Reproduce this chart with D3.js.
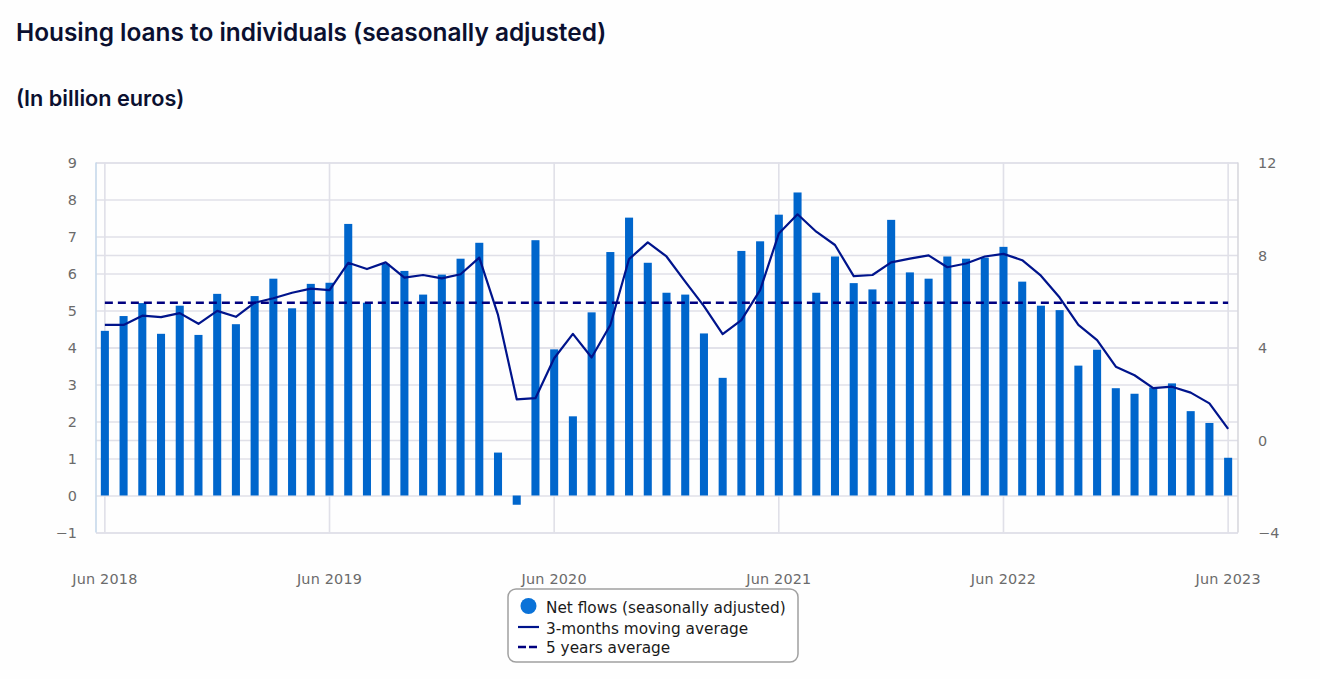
<!doctype html>
<html>
  <head>
    <meta charset="utf-8">
    <title>Housing loans to individuals</title>
    <script src="https://cdn.jsdelivr.net/npm/d3@7"></script>
    <style>
      html, body { margin:0; padding:0; overflow:hidden; background:#fefefe }
      svg { display:block }
      .title { font-family:Inter; font-weight:600; fill:#0b1030 }
      .axis text { font-family:"DejaVu Sans"; font-size:14.4px; fill:#6b6b6b; letter-spacing:0.2px }
      .axis .domain { display:none }
      .grid line { stroke:#e0e0e8; stroke-width:1.6 }
      .grid .domain { display:none }
      .legend text { font-family:"DejaVu Sans"; font-size:15.3px; fill:#1a1a1a }
    </style>
  </head>
  <body>
    <div id="chart"></div>
    <script>
      var WIDTH = 1320, HEIGHT = 679;

      var monthFormat = d3.utcFormat("%b %Y");
      var months = d3.utcMonth.range(new Date(Date.UTC(2018, 5, 1)), new Date(Date.UTC(2023, 6, 1))).map(monthFormat);
      var xTicks = ["Jun 2018", "Jun 2019", "Jun 2020", "Jun 2021", "Jun 2022", "Jun 2023"];
      var leftTicks = [-1, 0, 1, 2, 3, 4, 5, 6, 7, 8, 9];
      var rightTicks = [-4, 0, 4, 8, 12];

      var netFlows = [
        4.45, 4.85, 5.2, 4.37, 5.13, 4.34, 5.45, 4.63, 5.39, 5.86, 5.06, 5.72,
        5.75, 7.34, 5.21, 6.26, 6.07, 5.43, 5.97, 6.4, 6.83, 1.16, -0.25, 6.9,
        3.95, 2.14, 4.95, 6.58, 7.51, 6.29, 5.48, 5.43, 4.38, 3.18, 6.61, 6.87,
        7.59, 8.19, 5.48, 6.46, 5.74, 5.57, 7.45, 6.03, 5.86, 6.46, 6.4, 6.43,
        6.72, 5.78, 5.13, 5.01, 3.51, 3.94, 2.9, 2.75, 2.92, 3.03, 2.28, 1.96,
        1.02
      ];
      var movingAverage = [
        4.61, 4.61, 4.86, 4.82, 4.93, 4.64, 4.99, 4.83, 5.21, 5.33, 5.48, 5.59,
        5.55, 6.29, 6.12, 6.3, 5.89, 5.96, 5.87, 5.98, 6.43, 4.88, 2.6, 2.63,
        3.71, 4.37, 3.73, 4.61, 6.39, 6.84, 6.46, 5.78, 5.12, 4.36, 4.74, 5.55,
        7.08, 7.6, 7.13, 6.77, 5.93, 5.96, 6.3, 6.4, 6.49, 6.17, 6.27, 6.46,
        6.53, 6.36, 5.94, 5.35, 4.61, 4.2, 3.48, 3.25, 2.9, 2.94, 2.78, 2.49,
        1.8
      ];
      var fiveYearAverage = 5.21;

      var svg = d3.select("#chart").append("svg")
        .attr("width", WIDTH).attr("height", HEIGHT);

      var x = d3.scaleBand().domain(months).range([95.5, 1237.5]).paddingInner(0.57).paddingOuter(0.285);
      var y = d3.scaleLinear().domain([-1, 9]).range([532.5, 162.5]);
      var yRight = d3.scaleLinear().domain([-4, 12]).range([532.5, 162.5]);
      var mid = function(m) { return x(m) + x.bandwidth() / 2; };

      svg.append("text").attr("class", "title")
        .attr("x", 16).attr("y", 40.5).attr("font-size", 24.4)
        .text("Housing loans to individuals (seasonally adjusted)");
      svg.append("text").attr("class", "title")
        .attr("x", 16).attr("y", 105.5).attr("font-size", 21.7)
        .text("(In billion euros)");

      // gridlines, both value axes and the yearly verticals
      svg.append("g").attr("class", "grid").attr("transform", "translate(96,0)")
        .call(d3.axisRight(y).tickValues(leftTicks).tickSize(1142).tickFormat(""));
      svg.append("g").attr("class", "grid").attr("transform", "translate(96,0)")
        .call(d3.axisRight(yRight).tickValues(rightTicks).tickSize(1142).tickFormat(""));
      svg.append("g").attr("class", "grid").attr("transform", "translate(0,532.5)")
        .call(d3.axisTop(x).tickValues(xTicks).tickSize(370).tickFormat(""));
      svg.append("line").attr("x1", 96).attr("x2", 96).attr("y1", 162.5).attr("y2", 532.5)
        .attr("stroke", "#c6d8ea").attr("stroke-width", 1.6);
      svg.append("line").attr("x1", 1238).attr("x2", 1238).attr("y1", 162.5).attr("y2", 532.5)
        .attr("stroke", "#d8d8de").attr("stroke-width", 1.6);

      svg.append("g").selectAll("rect").data(netFlows).enter().append("rect")
        .attr("x", function(d, i) { return x(months[i]); })
        .attr("width", x.bandwidth())
        .attr("y", function(d) { return y(Math.max(d, 0)); })
        .attr("height", function(d) { return Math.abs(y(d) - y(0)); })
        .attr("fill", "#0066cc");

      var line = d3.line()
        .x(function(d, i) { return mid(months[i]); })
        .y(function(d) { return y(d); });
      svg.append("path").datum(movingAverage)
        .attr("d", line).attr("fill", "none")
        .attr("stroke", "#00148c").attr("stroke-width", 2.2).attr("stroke-linejoin", "round");
      svg.append("path").datum(months.map(function() { return fiveYearAverage; }))
        .attr("d", line).attr("fill", "none")
        .attr("stroke", "#00007f").attr("stroke-width", 2.4).attr("stroke-dasharray", "8,5");

      // axes, labels only
      var minus = function(d) { return String(d).replace("-", "\u2212"); };
      svg.append("g").attr("class", "axis").attr("transform", "translate(96,0.5)")
        .call(d3.axisLeft(y).tickValues(leftTicks).tickSize(0).tickPadding(19).tickFormat(minus));
      svg.append("g").attr("class", "axis").attr("transform", "translate(1238,0.5)")
        .call(d3.axisRight(yRight).tickValues(rightTicks).tickSize(0).tickPadding(20).tickFormat(minus));
      svg.append("g").attr("class", "axis").attr("transform", "translate(0,532.5)")
        .call(d3.axisBottom(x).tickValues(xTicks).tickSize(0).tickPadding(41));

      var legend = svg.append("g").attr("class", "legend");
      legend.append("rect").attr("x", 508).attr("y", 589).attr("width", 290).attr("height", 73)
        .attr("rx", 8).attr("fill", "#fff").attr("stroke", "#a0a0a0").attr("stroke-width", 1.5);
      legend.append("circle").attr("cx", 528.5).attr("cy", 606).attr("r", 8).attr("fill", "#0a72d8");
      legend.append("line").attr("x1", 518).attr("x2", 539).attr("y1", 627).attr("y2", 627)
        .attr("stroke", "#00148c").attr("stroke-width", 2.2);
      legend.append("line").attr("x1", 518).attr("x2", 537).attr("y1", 647).attr("y2", 647)
        .attr("stroke", "#00007f").attr("stroke-width", 2.4).attr("stroke-dasharray", "8,3");
      var legendLabels = ["Net flows (seasonally adjusted)", "3-months moving average", "5 years average"];
      legend.selectAll("text").data(legendLabels).enter().append("text")
        .attr("x", 546)
        .attr("y", function(d, i) { return [613, 634, 653][i]; })
        .text(function(d) { return d; });
    </script>
  </body>
</html>
